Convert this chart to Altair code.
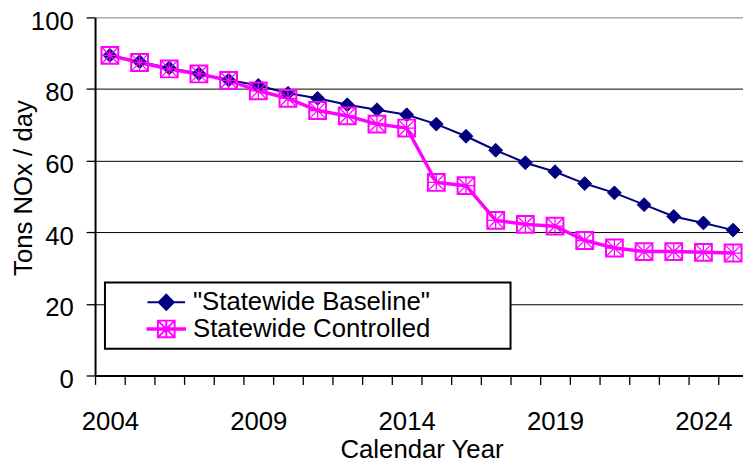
import altair as alt
import pandas as pd

# ---- data ----
years = list(range(2004, 2026))
baseline = [89.4, 87.6, 85.9, 84.3, 82.5, 81.0, 78.8, 77.4, 75.6, 74.2, 72.8,
            70.2, 66.8, 62.9, 59.4, 56.9, 53.6, 51.0, 47.7, 44.4, 42.6, 40.6]
controlled = [89.4, 87.4, 85.6, 84.2, 82.4, 79.5, 77.4, 74.0, 72.5, 70.2, 69.1,
              53.9, 53.0, 43.3, 42.2, 41.7, 37.7, 35.6, 34.6, 34.6, 34.4, 34.2]
series_names = ['"Statewide Baseline"', 'Statewide Controlled']
series_colors = ["#000080", "#FF00FF"]
series_fills = ["#000080", "transparent"]
series_widths = [2, 3.5]
y_ticks = [0, 20, 40, 60, 80, 100]
x_label_years = [2004, 2009, 2014, 2019, 2024]
x_boundaries = [y - 0.5 for y in years]

df = pd.DataFrame({
    "year": years + years,
    "value": baseline + controlled,
    "series": [series_names[0]] * len(years) + [series_names[1]] * len(years),
})

FONT = "Liberation Sans"
NAVY, MAGENTA = series_colors

DIAMOND = "M0,-1L1,0L0,1L-1,0Z"
SQUARE = "M-1,-1L1,-1L1,1L-1,1Z"
ASTER = "M-1,-1L1,1M1,-1L-1,1M0,-1L0,1M-1,0L1,0"
LEG_B = "M-2,0L2,0M0,-0.8L0.8,0L0,0.8L-0.8,0Z"
LEG_C = ("M-2,-0.08L2,-0.08L2,0.08L-2,0.08Z"
         "M-0.89,-0.89L0.89,-0.89L0.89,0.89L-0.89,0.89Z"
         "M-0.89,-0.89L0.89,0.89M0.89,-0.89L-0.89,0.89M0,-0.89L0,0.89")

label_list = ",".join(str(v) for v in x_label_years)

x_enc = alt.X(
    "year:Q",
    scale=alt.Scale(domain=[2003.5, 2003.5 + 655 / 30.0], nice=False, zero=False),
    axis=alt.Axis(
        values=x_boundaries,
        labelExpr=f"indexof([{label_list}], datum.value + 0.5) >= 0 ? format(datum.value + 0.5, 'd') : ''",
        labelOffset=15, labelOverlap=False, labelFlush=False, labelBound=False,
        labelBaseline="alphabetic", labelPadding=46,
        tickSize=9, tickWidth=1.3, domainWidth=2, grid=False,
        title="Calendar Year", titleX=330, titleY=83,
        titleBaseline="alphabetic", titleAlign="center",
    ),
)
y_enc = alt.Y(
    "value:Q",
    scale=alt.Scale(domain=[0, 100], nice=False),
    axis=alt.Axis(
        values=y_ticks, tickSize=9, tickWidth=1.3, domainWidth=2,
        labelPadding=13, labelBaseline="alphabetic", labelOffset=12, labelFlush=False,
        grid=True, gridWidth=1,
        gridColor={"condition": {"test": "datum.value === 100", "value": "#808080"}, "value": "black"},
        title="Tons NOx / day", titleX=-64, titleY=172, titleAngle=270,
        titleBaseline="alphabetic", titleAlign="center",
    ),
)

legend = alt.Legend(
    orient="none", legendX=10, legendY=268,
    # invisible spacer title on the right widens the box like the original
    title="MMMMMMMM", titleOrient="right", titleFontSize=10, titlePadding=7, titleOpacity=0,
    padding=7, fillColor="white", strokeColor="black",
    labelFont=FONT, labelFontSize=26, labelColor="black", labelOffset=14, labelLimit=0,
    symbolSize=361, symbolStrokeWidth=2, symbolOpacity=1, symbolOffset=42, rowPadding=1,
)

base = alt.Chart(df).encode(x=x_enc, y=y_enc)

line_b = base.mark_line(color=NAVY, strokeWidth=series_widths[0]).transform_filter(
    alt.datum.series == series_names[0])
line_c = base.mark_line(color=MAGENTA, strokeWidth=series_widths[1]).transform_filter(
    alt.datum.series == series_names[1])
diamonds = base.mark_point(shape=DIAMOND, size=196, filled=True, fill=NAVY, stroke=NAVY,
                           strokeWidth=1, opacity=1).transform_filter(
    alt.datum.series == series_names[0])
squares = base.mark_point(shape=SQUARE, size=289, filled=False, stroke=MAGENTA,
                          strokeWidth=2, opacity=1).transform_filter(
    alt.datum.series == series_names[1])
asters = base.mark_point(shape=ASTER, size=289, filled=False, stroke=MAGENTA,
                         strokeWidth=1.3, opacity=1).transform_filter(
    alt.datum.series == series_names[1])

# legend-only layer (no rows drawn; entries come from the explicit scale domains)
legend_layer = base.mark_point(strokeWidth=2, opacity=1).encode(
    shape=alt.Shape("series:N", scale=alt.Scale(domain=series_names, range=[LEG_B, LEG_C]), legend=legend),
    stroke=alt.Stroke("series:N", scale=alt.Scale(domain=series_names, range=series_colors), legend=legend),
    fill=alt.Fill("series:N", scale=alt.Scale(domain=series_names, range=series_fills), legend=legend),
).transform_filter("false")

chart = alt.layer(line_b, line_c, diamonds, squares, asters, legend_layer).properties(
    width=655, height=362,
    autosize=alt.AutoSizeParams(type="none"),
    padding={"left": 88, "top": 7, "right": 0, "bottom": 89},
    background="white",
).configure_axis(
    labelFont=FONT, titleFont=FONT, labelFontSize=26, titleFontSize=26,
    labelColor="black", titleColor="black", titleFontWeight="normal",
    domainColor="black", tickColor="black",
).configure_legend(strokeWidth=2).configure_view(strokeWidth=0)

chart.save("out.html", embed_options={"renderer": "svg", "actions": False})
